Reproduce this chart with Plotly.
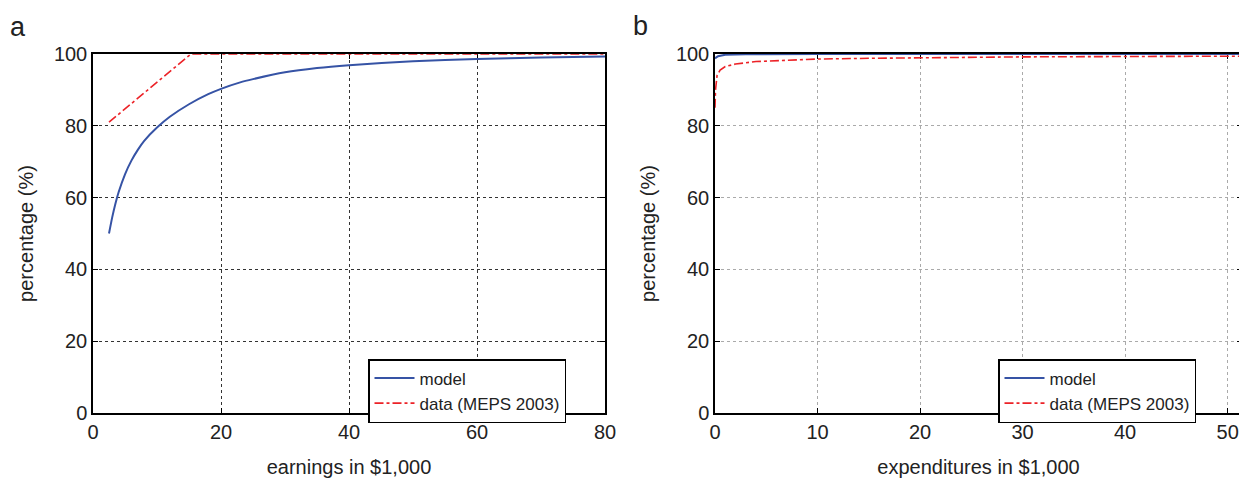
import plotly.graph_objects as go

# Panel a: earnings
earn_model_x = [2.5, 3, 3.5, 4, 5, 6, 7, 8, 10, 12, 15, 18, 20, 23, 25, 30, 35, 40, 50, 60, 70, 80]
earn_model_y = [50, 54.5, 58.3, 61.5, 66.5, 70.3, 73.3, 75.8, 79.5, 82.5, 86, 88.8, 90.3, 92.1, 93.0, 94.9, 96.1, 96.9, 98.0, 98.6, 99.0, 99.3]
earn_data_x = [2.5, 15.3, 80]
earn_data_y = [81, 100, 100]

# Panel b: expenditures
exp_model_x = [0, 0.3, 1, 3, 10, 52]
exp_model_y = [98.8, 99.4, 99.8, 99.95, 100, 100]
exp_data_x = [0, 0.05, 0.2, 0.5, 1, 2, 4, 7, 10, 15, 20, 30, 40, 52]
exp_data_y = [85, 90, 94, 95.5, 96.5, 97.2, 97.9, 98.3, 98.6, 98.8, 99.0, 99.2, 99.3, 99.4]

x_ticks_a = [0, 20, 40, 60, 80]
x_ticks_b = [0, 10, 20, 30, 40, 50]
y_ticks = [0, 20, 40, 60, 80, 100]

BLUE = "#3653a5"
RED = "#ec2227"
FONT = "Liberation Sans, Arial, sans-serif"
FS = 20

# page body has an 8px margin: paper coords = screen coords - 8
W, H = 1239, 478
OFF = 8


def fx(sx):
    return (sx - OFF) / W


def fy(sy):
    return 1 - (sy - OFF) / H


fig = go.Figure()
fig.add_trace(go.Scatter(x=earn_model_x, y=earn_model_y, mode="lines", name="model",
                         line=dict(color=BLUE, width=2, shape="spline", smoothing=0.6),
                         xaxis="x", yaxis="y", legend="legend"))
fig.add_trace(go.Scatter(x=earn_data_x, y=earn_data_y, mode="lines", name="data (MEPS 2003)",
                         line=dict(color=RED, width=1.6, dash="dashdot"), xaxis="x", yaxis="y", legend="legend"))
fig.add_trace(go.Scatter(x=exp_model_x, y=exp_model_y, mode="lines", name="model",
                         line=dict(color=BLUE, width=2), xaxis="x2", yaxis="y2", legend="legend2"))
fig.add_trace(go.Scatter(x=exp_data_x, y=exp_data_y, mode="lines", name="data (MEPS 2003)",
                         line=dict(color=RED, width=1.6, dash="dashdot"), xaxis="x2", yaxis="y2", legend="legend2"))

common = dict(showline=True, linecolor="black", linewidth=1.5, mirror="ticks",
              ticks="inside", ticklen=5, tickcolor="black", tickwidth=1,
              showgrid=True, griddash="dot", gridwidth=1, zeroline=False,
              tickfont=dict(size=FS, color="#222", family=FONT),
              layer="below traces", automargin=False)

ydom = [fy(413), fy(54)]
fig.update_layout(
    width=W, height=H,
    margin=dict(l=0, r=0, t=0, b=0, autoexpand=False),
    paper_bgcolor="white", plot_bgcolor="white",
    font=dict(family=FONT, size=FS, color="#222"),
    showlegend=True,
    xaxis=dict(domain=[fx(93), fx(605)], range=[0, 80], tickvals=x_ticks_a,
               title=dict(text="earnings in $1,000", font=dict(size=FS), standoff=18),
               gridcolor="#333", anchor="y", **common),
    yaxis=dict(domain=ydom, range=[0, 100], tickvals=y_ticks,
               title=dict(text="percentage (%)", font=dict(size=FS), standoff=15),
               gridcolor="#333", anchor="x", **common),
    xaxis2=dict(domain=[fx(715), fx(1242)], range=[0, 51.4], tickvals=x_ticks_b,
                title=dict(text="expenditures in $1,000", font=dict(size=FS), standoff=18),
                gridcolor="#aaa", anchor="y2", **common),
    yaxis2=dict(domain=ydom, range=[0, 100], tickvals=y_ticks,
                title=dict(text="percentage (%)", font=dict(size=FS), standoff=15),
                gridcolor="#aaa", anchor="x2", **common),
    legend=dict(x=fx(368), y=fy(359), xanchor="left", yanchor="top",
                bordercolor="black", borderwidth=1.5, bgcolor="white",
                font=dict(size=17), tracegroupgap=0, itemwidth=40),
    legend2=dict(x=fx(998), y=fy(359), xanchor="left", yanchor="top",
                 bordercolor="black", borderwidth=1.5, bgcolor="white",
                 font=dict(size=17), tracegroupgap=0, itemwidth=40),
    annotations=[
        dict(text="a", x=fx(8), y=fy(10), xref="paper", yref="paper",
             xanchor="left", yanchor="top", showarrow=False, font=dict(size=27, color="#222")),
        dict(text="b", x=fx(631), y=fy(9), xref="paper", yref="paper",
             xanchor="left", yanchor="top", showarrow=False, font=dict(size=27, color="#222")),
    ],
)

fig.write_html("out.html")
